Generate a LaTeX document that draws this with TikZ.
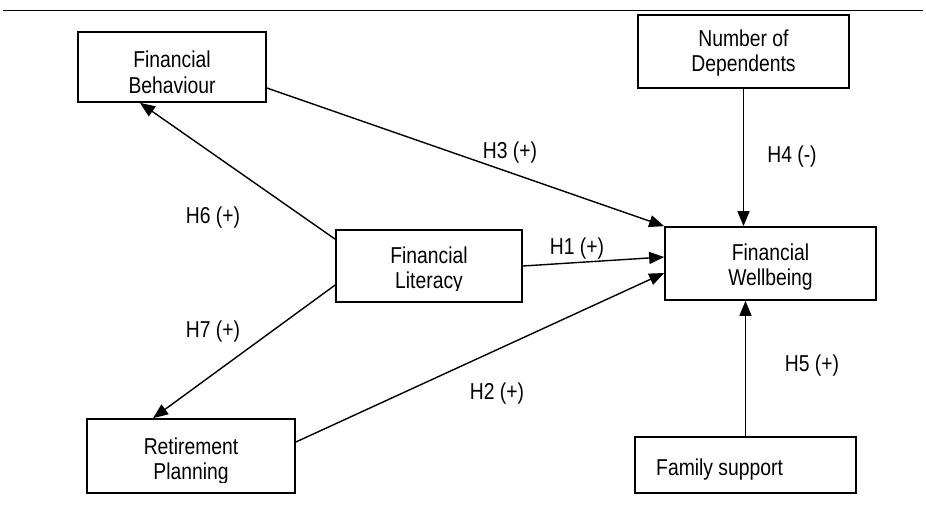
\documentclass[tikz,border=0pt]{standalone}
\usepackage{fontspec}
\setmainfont{Liberation Sans}[FakeStretch=0.84]
\usetikzlibrary{arrows.meta}
\begin{document}
\begin{tikzpicture}[x=1pt,y=-1pt,
  box/.style={draw, line width=1.7pt, inner sep=0pt},
  conn/.style={line width=1.4pt, -{Triangle[length=15pt,width=12pt]}},
  txt/.style={font=\fontsize{23}{25}\selectfont, inner sep=0pt},
  lab/.style={font=\fontsize{23}{25}\selectfont, inner sep=0pt}]
\useasboundingbox (0,0) rectangle (926,515);
\coordinate (rl) at (3,10);
\coordinate (rr) at (923,10);
\draw[line width=1pt] (rl) -- (rr);

% boxes
\node[box, minimum width=188pt, minimum height=70pt] (fb) at (172,67) {};
\node[box, minimum width=211pt, minimum height=73pt] (nd) at (743.5,51.5) {};
\node[box, minimum width=186pt, minimum height=72pt] (fl) at (429,266) {};
\node[box, minimum width=211pt, minimum height=73pt] (fw) at (770.5,263.5) {};
\node[box, minimum width=208pt, minimum height=74pt] (rp) at (191,456) {};
\node[box, minimum width=221pt, minimum height=56pt] (fs) at (745.5,465) {};

% texts
\begin{scope}
\clip (fb.north west) rectangle ([yshift=8pt]fb.south east);
\node[txt, anchor=base] (fb1) at (172,67.5) {Financial};
\node[txt, anchor=base] (fb2) at (172,93) {Behaviour};
\end{scope}
\node[txt, anchor=base] (nd1) at (743.5,46) {Number of};
\node[txt, anchor=base] (nd2) at (743.5,71) {Dependents};
\begin{scope}
\clip (fl.north west) rectangle ([yshift=12pt]fl.south east);
\node[txt, anchor=base] (fl1) at (429,263) {Financial};
\node[txt, anchor=base] (fl2) at (429,288) {Literacy};
\end{scope}
\begin{scope}
\clip (fw.north west) rectangle ([yshift=11pt]fw.south east);
\node[txt, anchor=base] (fw1) at (770.5,260) {Financial};
\node[txt, anchor=base] (fw2) at (770.5,285) {Wellbeing};
\end{scope}
\begin{scope}
\clip (rp.north west) rectangle ([yshift=11pt]rp.south east);
\node[txt, anchor=base] (rp1) at (191,454) {Retirement};
\node[txt, anchor=base] (rp2) at (191,479) {Planning};
\end{scope}
\node[txt, anchor=base west] (fs1) at (656,475) {Family support};

% connectors
\draw[conn] ([yshift=-21pt]fb.east) -- (fw.north west);
\draw[conn] ([yshift=-10pt]fl.north west) -- ([xshift=-32pt]fb.south);
\draw[conn] (fl.east) -- ([yshift=6.5pt]fw.west);
\draw[conn] ([yshift=-19pt]fl.west) -- ([xshift=-38pt]rp.north);
\draw[conn] ([yshift=14pt]rp.east) -- ([yshift=-9.5pt]fw.west);
\draw[conn] (nd.south) -- (nd.south |- fw.north);
\draw[conn] (fs.north) -- (fs.north |- fw.south);

% labels
\node[lab] (h3) at (510,153) {H3 (+)};
\node[lab] (h4) at (792,157) {H4 (-)};
\node[lab] (h6) at (213,218) {H6 (+)};
\node[lab] (h1) at (577,249) {H1 (+)};
\node[lab] (h7) at (213,332) {H7 (+)};
\node[lab] (h2) at (497,394) {H2 (+)};
\node[lab] (h5) at (812,366) {H5 (+)};
\end{tikzpicture}
\end{document}
